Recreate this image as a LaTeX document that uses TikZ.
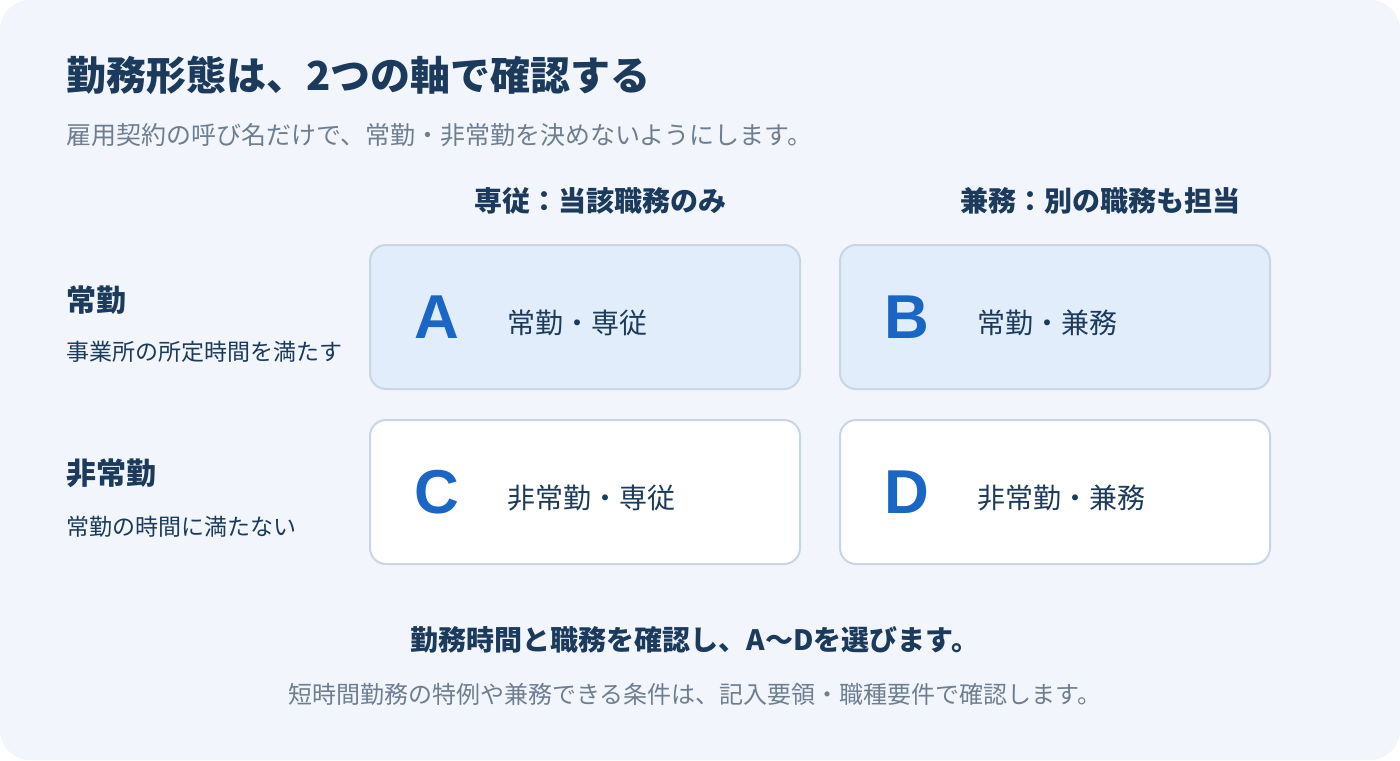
\documentclass[tikz,border=0pt]{standalone}
\usepackage{fontspec}
\setmainfont{Noto Sans CJK JP}
\newfontfamily\latinfont{Liberation Sans}

\definecolor{pagebg}{HTML}{F2F6FC}
\definecolor{navy}{HTML}{1B3A5C}
\definecolor{greytext}{HTML}{6E7E90}
\definecolor{cellline}{HTML}{C8D5E3}
\definecolor{cellfill}{HTML}{E1EDFB}
\definecolor{letterblue}{HTML}{1A66C6}

\tikzset{
  cell/.style={draw=cellline, line width=1pt, rounded corners=8pt,
    minimum width=215pt, minimum height=72pt, inner sep=0pt},
  letter/.style={anchor=base, inner sep=0pt, text=letterblue,
    font=\latinfont\bfseries\fontsize{31}{31}\selectfont},
  celltext/.style={anchor=base west, inner sep=0pt, text=navy,
    font=\fontsize{14}{16}\selectfont},
  colhead/.style={anchor=base, inner sep=0pt, text=navy,
    font=\bfseries\fontsize{14}{16}\selectfont},
  rowhead/.style={anchor=base west, inner sep=0pt, text=navy,
    font=\bfseries\fontsize{15}{17}\selectfont},
  rownote/.style={anchor=base west, inner sep=0pt, text=navy,
    font=\fontsize{11.5}{13}\selectfont}
}

\begin{document}
\begin{tikzpicture}[x=0.5pt, y=-0.5pt]
      \useasboundingbox (0, 0) rectangle (1400, 760);
      \fill [white] (0, 0) rectangle (1400, 760);
      \fill [pagebg, rounded corners=15pt] (0, 0) rectangle (1400, 760);

      % title and lead
      \node[anchor=base west, inner sep=0pt, text=navy,
        font=\bfseries\fontsize{20}{24}\selectfont] (title) at (66, 90)
        {勤務形態は、2つの軸で確認する};
      \node[anchor=base west, inner sep=0pt, text=greytext,
        font=\fontsize{12.5}{14}\selectfont] (lead) at (66, 144)
        {雇用契約の呼び名だけで、常勤・非常勤を決めないようにします。};

      % column heads
      \node[colhead] (senju) at (600, 211) {専従：当該職務のみ};
      \node[colhead] (kenmu) at (1100, 211) {兼務：別の職務も担当};

      % row heads
      \node[rowhead] (jokin) at (66, 311) {常勤};
      \node[rownote] (jokinnote) at (66, 360) {事業所の所定時間を満たす};
      \node[rowhead] (hijokin) at (66, 484) {非常勤};
      \node[rownote] (hijokinnote) at (66, 535) {常勤の時間に満たない};

      % the four cells
      \node[cell, fill=cellfill] (cellA) at (585, 317) {};
      \node[cell, fill=cellfill] (cellB) at (1055, 317) {};
      \node[cell, fill=white] (cellC) at (585, 492) {};
      \node[cell, fill=white] (cellD) at (1055, 492) {};

      \node[letter] (letA) at (437, 338) {A};
      \node[celltext] (textA) at (507, 333) {常勤・専従};

      \node[letter] (letB) at (907, 338) {B};
      \node[celltext] (textB) at (977, 333) {常勤・兼務};

      \node[letter] (letC) at (437, 513) {C};
      \node[celltext] (textC) at (507, 508) {非常勤・専従};

      \node[letter] (letD) at (907, 513) {D};
      \node[celltext] (textD) at (977, 508) {非常勤・兼務};

      % closing lines
      \node[anchor=base, inner sep=0pt, text=navy,
        font=\bfseries\fontsize{14}{16}\selectfont] (pick) at (695, 650)
        {勤務時間と職務を確認し、A〜Dを選びます。};
      \node[anchor=base, inner sep=0pt, text=greytext,
        font=\fontsize{12}{14}\selectfont] (note) at (695, 703)
        {短時間勤務の特例や兼務できる条件は、記入要領・職種要件で確認します。};
    \end{tikzpicture}
\end{document}
